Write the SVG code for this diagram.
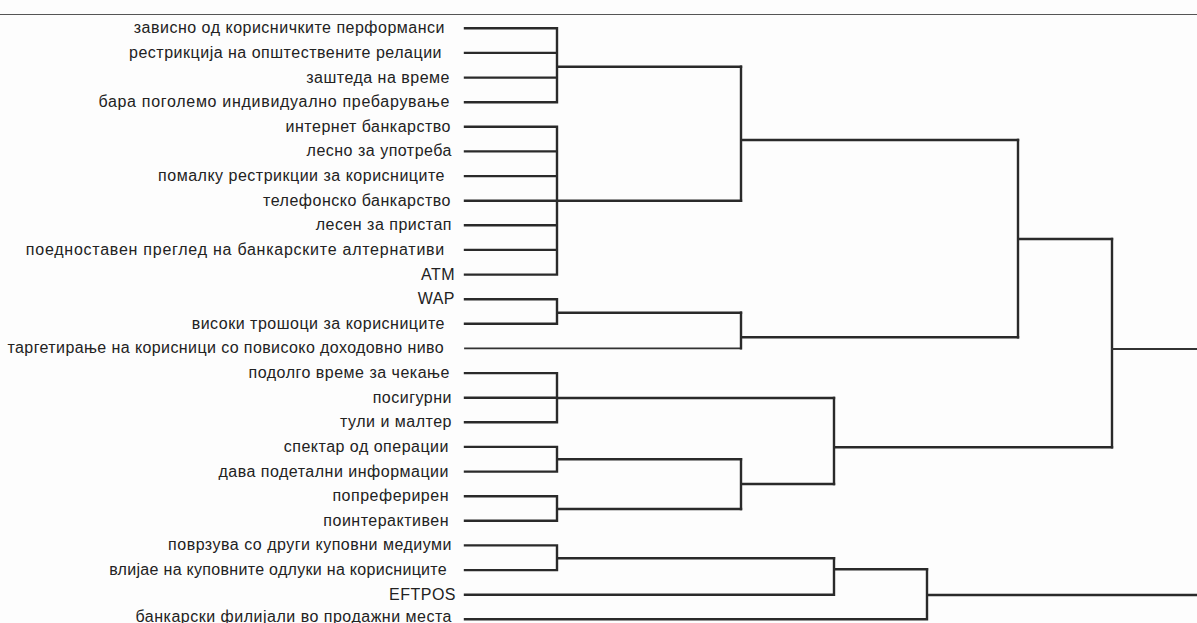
<svg xmlns="http://www.w3.org/2000/svg" width="1197" height="623" viewBox="0 0 1197 623">
<style>
.lbl{font-family:"Liberation Sans",Arial,sans-serif;font-size:16px;letter-spacing:0.5px;fill:#222;text-anchor:end}
.c{fill:none;stroke:#2a2a2a;stroke-width:2.4;stroke-linecap:square;stroke-linejoin:miter}
.c2{fill:none;stroke:#333;stroke-width:1.8;stroke-linecap:square}
</style>
<rect width="1197" height="623" fill="#fdfdfd"/>
<line x1="0" y1="14.5" x2="1197" y2="14.5" stroke="#555" stroke-width="1.2"/>
<g id="leaves">
<g id="n0"><text class="lbl" x="445" y="33.3">зависно од корисничките перформанси</text></g>
<g id="n1"><text class="lbl" x="442" y="57.9">рестрикција на општествените релации</text></g>
<g id="n2"><text class="lbl" x="450" y="82.6">заштеда на време</text></g>
<g id="n3"><text class="lbl" x="450" y="107.2" style="letter-spacing:0.7px">бара поголемо индивидуално пребарување</text></g>
<g id="n4"><text class="lbl" x="451" y="131.8">интернет банкарство</text></g>
<g id="n5"><text class="lbl" x="452" y="156.4">лесно за употреба</text></g>
<g id="n6"><text class="lbl" x="445" y="181.1">помалку рестрикции за корисниците</text></g>
<g id="n7"><text class="lbl" x="451" y="205.7">телефонско банкарство</text></g>
<g id="n8"><text class="lbl" x="452" y="230.3">лесен за пристап</text></g>
<g id="n9"><text class="lbl" x="445" y="254.9" style="letter-spacing:0.75px">поедноставен преглед на банкарските алтернативи</text></g>
<g id="n10"><text class="lbl" x="455" y="279.6">АТМ</text></g>
<g id="n11"><text class="lbl" x="455" y="304.2">WAP</text></g>
<g id="n12"><text class="lbl" x="445" y="328.8">високи трошоци за корисниците</text></g>
<g id="n13"><text class="lbl" x="444" y="353.4" style="letter-spacing:0.4px">таргетирање на корисници со повисоко доходовно ниво</text></g>
<g id="n14"><text class="lbl" x="450" y="378.1">подолго време за чекање</text></g>
<g id="n15"><text class="lbl" x="452" y="402.7">посигурни</text></g>
<g id="n16"><text class="lbl" x="452" y="427.3">тули и малтер</text></g>
<g id="n17"><text class="lbl" x="449" y="451.9">спектар од операции</text></g>
<g id="n18"><text class="lbl" x="449" y="476.6">дава подетални информации</text></g>
<g id="n19"><text class="lbl" x="449" y="501.2">попреферирен</text></g>
<g id="n20"><text class="lbl" x="449" y="525.8">поинтерактивен</text></g>
<g id="n21"><text class="lbl" x="452" y="550.4">поврзува со други куповни медиуми</text></g>
<g id="n22"><text class="lbl" x="447" y="575.1" style="letter-spacing:0.3px">влијае на куповните одлуки на корисниците</text></g>
<g id="n23"><text class="lbl" x="456" y="599.7">EFTPOS</text></g>
<g id="n24"><text class="lbl" x="452" y="621.5">банкарски филијали во продажни места</text></g>
</g>
<g id="connectors">
<path class="c" d="M465 28.3H557M465 52.9H557M465 77.6H557M465 102.2H557M557 28.3V102.2M557 66.7H741"/>
<path class="c" d="M465 126.8H557M465 151.4H557M465 176.1H557M465 200.7H557M465 225.3H557M465 249.9H557M465 274.6H557M557 126.8V274.6M557 200.7H741"/>
<path class="c" d="M741 66.7V200.7M741 140H1018"/>
<path class="c" d="M465 299.2H557M465 323.8H557M557 299.2V323.8M557 312.7H741"/>
<path class="c2" d="M465 348.4H741"/>
<path class="c" d="M741 312.7V348.4M741 337.3H1018"/>
<path class="c" d="M1018 140V337.3M1018 239H1112"/>
<path class="c" d="M465 373.1H557M465 397.7H557M465 422.3H557M557 373.1V422.3M557 398H834"/>
<path class="c" d="M465 446.9H557M465 471.6H557M557 446.9V471.6M557 459.3H741"/>
<path class="c" d="M465 496.2H557M465 520.8H557M557 496.2V520.8M557 509H741"/>
<path class="c" d="M741 459.3V509M741 484H834"/>
<path class="c" d="M834 398V484M834 447.3H1112"/>
<path class="c" d="M1112 239V447.3"/>
<path class="c2" d="M1112 349H1197"/>
<path class="c" d="M465 545.4H557M465 570.1H557M557 545.4V570.1M557 558.3H834"/>
<path class="c" d="M465 594.7H834M834 558.3V594.7M834 569.3H927"/>
<path class="c" d="M465 619.3H927M927 569.3V619.3M927 595H1197"/>
</g>
</svg>
